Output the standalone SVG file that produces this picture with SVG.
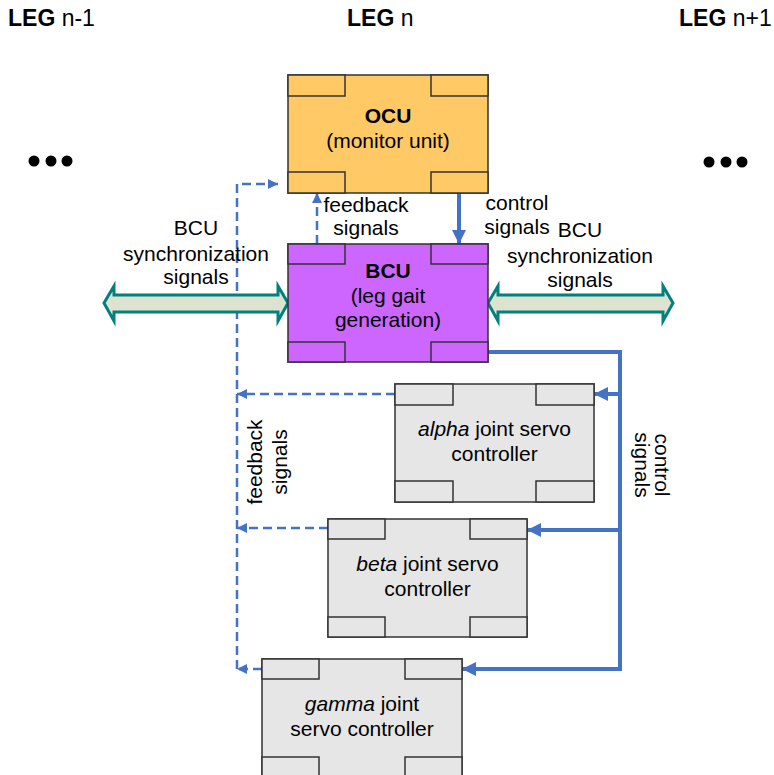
<svg xmlns="http://www.w3.org/2000/svg" width="774" height="775" viewBox="0 0 774 775">
  <defs>
    <style>
      text { font-family: "Liberation Sans", Arial, sans-serif; font-size: 21px; fill: #000; }
      .c { text-anchor: middle; }
      .b { font-weight: bold; }
      .hdr { font-size: 23px; }
      .box { stroke: #333; stroke-width: 1.5; }
      .ocu { fill: #ffc966; }
      .bcu { fill: #cc66ff; }
      .srv { fill: #e6e6e6; }
      .dash { fill: none; stroke: #4472c4; stroke-width: 2.5; stroke-dasharray: 9 5; }
      .ctl { fill: none; stroke: #4472c4; stroke-width: 4; }
      .sync { fill: #dde3cf; stroke: #008080; stroke-width: 3; stroke-linejoin: miter; }
      .dot { fill: #000; }
    </style>
    <marker id="headS" viewBox="0 0 14 14" refX="14" refY="7" markerWidth="14" markerHeight="14" markerUnits="userSpaceOnUse" orient="auto">
      <path d="M0,0 L14,7 L0,14 Z" fill="#4472c4"/>
    </marker>
    <marker id="headD" viewBox="0 0 10 10" refX="10" refY="5" markerWidth="10" markerHeight="10" markerUnits="userSpaceOnUse" orient="auto">
      <path d="M0,0 L10,5 L0,10 Z" fill="#4472c4"/>
    </marker>
  </defs>

  <rect width="774" height="775" fill="#fff"/>

  <!-- column headers -->
  <text class="hdr" x="8" y="26"><tspan class="b">LEG</tspan> n-1</text>
  <text class="hdr" x="347" y="26"><tspan class="b">LEG</tspan> n</text>
  <text class="hdr" x="679" y="26"><tspan class="b">LEG</tspan> n+1</text>

  <!-- neighbouring legs -->
  <g id="dots-left">
    <circle class="dot" cx="34" cy="161" r="5.5"/>
    <circle class="dot" cx="51" cy="161" r="5.5"/>
    <circle class="dot" cx="67" cy="161" r="5.5"/>
  </g>
  <g id="dots-right">
    <circle class="dot" cx="709" cy="162" r="5.5"/>
    <circle class="dot" cx="726" cy="162" r="5.5"/>
    <circle class="dot" cx="742" cy="162" r="5.5"/>
  </g>

  <!-- connectors -->
  <g id="connectors">
    <!-- feedback bus -->
    <path class="dash" d="M237,669 L237,184 L278,184" marker-end="url(#headD)"/>
    <path class="dash" d="M317,244 L317,193" marker-end="url(#headD)"/>
    <path class="dash" d="M395,394 L237,394" marker-end="url(#headD)"/>
    <path class="dash" d="M328,528 L237,528" marker-end="url(#headD)"/>
    <path class="dash" d="M262,669 L237,669" marker-end="url(#headD)"/>
    <!-- control bus -->
    <path class="ctl" d="M459,193 L459,244" marker-end="url(#headS)"/>
    <path class="ctl" d="M488,352 L620,352 L620,669 L462,669" marker-end="url(#headS)"/>
    <path class="ctl" d="M620,394 L594,394" marker-end="url(#headS)"/>
    <path class="ctl" d="M620,530 L527,530" marker-end="url(#headS)"/>
    <!-- BCU synchronization arrows -->
    <polygon class="sync" points="104,303 114,286 114,295 278,295 278,286 288,303 278,321 278,312 114,312 114,321"/>
    <polygon class="sync" points="488,303 498,286 498,295 663,295 663,286 673,303 663,321 663,312 498,312 498,321"/>
  </g>

  <!-- OCU -->
  <g id="ocu">
    <rect class="box ocu" x="288" y="75" width="200" height="118"/>
    <rect class="box ocu" x="288" y="75" width="57" height="21"/>
    <rect class="box ocu" x="431" y="75" width="57" height="21"/>
    <rect class="box ocu" x="288" y="172" width="57" height="21"/>
    <rect class="box ocu" x="431" y="172" width="57" height="21"/>
    <text class="c b" x="388" y="123">OCU</text>
    <text class="c" x="388" y="148">(monitor unit)</text>
  </g>

  <!-- BCU -->
  <g id="bcu">
    <rect class="box bcu" x="288" y="244" width="200" height="118"/>
    <rect class="box bcu" x="288" y="244" width="57" height="20"/>
    <rect class="box bcu" x="431" y="244" width="57" height="20"/>
    <rect class="box bcu" x="288" y="342" width="57" height="20"/>
    <rect class="box bcu" x="431" y="342" width="57" height="20"/>
    <text class="c b" x="388" y="278">BCU</text>
    <text class="c" x="388" y="303">(leg gait</text>
    <text class="c" x="388" y="327">generation)</text>
  </g>

  <!-- alpha joint -->
  <g id="alpha">
    <rect class="box srv" x="395" y="384" width="199" height="118"/>
    <rect class="box srv" x="395" y="384" width="58" height="21"/>
    <rect class="box srv" x="536" y="384" width="58" height="21"/>
    <rect class="box srv" x="395" y="481" width="58" height="21"/>
    <rect class="box srv" x="536" y="481" width="58" height="21"/>
    <text class="c" x="494.5" y="436"><tspan font-style="italic">alpha</tspan> joint servo</text>
    <text class="c" x="494.5" y="461">controller</text>
  </g>

  <!-- beta joint -->
  <g id="beta">
    <rect class="box srv" x="328" y="519" width="199" height="118"/>
    <rect class="box srv" x="328" y="519" width="57" height="20"/>
    <rect class="box srv" x="470" y="519" width="57" height="20"/>
    <rect class="box srv" x="328" y="617" width="57" height="20"/>
    <rect class="box srv" x="470" y="617" width="57" height="20"/>
    <text class="c" x="427.5" y="571"><tspan font-style="italic">beta</tspan> joint servo</text>
    <text class="c" x="427.5" y="596">controller</text>
  </g>

  <!-- gamma joint -->
  <g id="gamma">
    <rect class="box srv" x="262" y="659" width="200" height="118"/>
    <rect class="box srv" x="262" y="659" width="57" height="20"/>
    <rect class="box srv" x="405" y="659" width="57" height="20"/>
    <rect class="box srv" x="262" y="757" width="57" height="20"/>
    <rect class="box srv" x="405" y="757" width="57" height="20"/>
    <text class="c" x="362" y="711"><tspan font-style="italic">gamma</tspan> joint</text>
    <text class="c" x="362" y="736">servo controller</text>
  </g>

  <!-- connector labels -->
  <g id="labels">
    <text class="c" x="366" y="212">feedback</text>
    <text class="c" x="366" y="235">signals</text>
    <text class="c" x="517" y="210">control</text>
    <text class="c" x="517" y="234">signals</text>
    <text class="c" x="196" y="235">BCU</text>
    <text class="c" x="196" y="261">synchronization</text>
    <text class="c" x="196" y="284">signals</text>
    <text class="c" x="580" y="237">BCU</text>
    <text class="c" x="580" y="263">synchronization</text>
    <text class="c" x="580" y="287">signals</text>
    <text class="c" transform="translate(262,462) rotate(-90)">feedback</text>
    <text class="c" transform="translate(287,462) rotate(-90)">signals</text>
    <text class="c" transform="translate(655,465) rotate(90)">control</text>
    <text class="c" transform="translate(635,465) rotate(90)">signals</text>
  </g>
</svg>
